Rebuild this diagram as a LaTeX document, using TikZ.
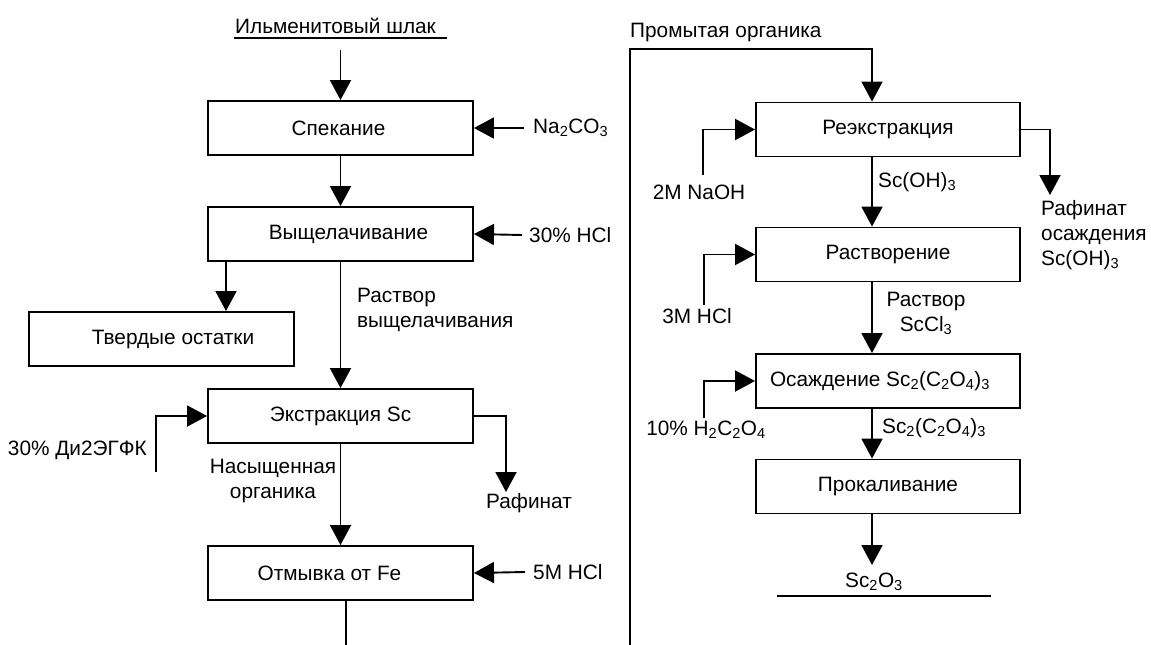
\documentclass[tikz,border=0pt]{standalone}
\usepackage{fontspec}
\setmainfont{Liberation Sans}
\usetikzlibrary{arrows.meta,calc}
\begin{document}
\begin{tikzpicture}[x=1pt,y=-1pt,
  txt/.style={font=\fontsize{20.8}{25}\selectfont},
  proc/.style={draw,line width=1.9pt,minimum height=54pt,inner sep=0pt,txt},
  lproc/.style={proc,minimum width=265pt},
  rproc/.style={proc,minimum width=264pt},
  lbl/.style={txt,inner sep=0pt},
  flow/.style={line width=1.9pt,-{Triangle[width=21pt,length=20pt]}},
  wire/.style={line width=1.9pt}]
\useasboundingbox (0,0) rectangle (1151,645);
\fill[white] (0,0) rectangle (1151,645);
% columns
\coordinate (lx) at (226,0);
\coordinate (rx) at (872,0);
% ---------- left column ----------
\node[lbl] (slag) at (335.5,26) {Ильменитовый шлак};
\draw[wire] (234,38) -- (447,38);
\coordinate (slagout) at (340.5,50);
\node[lproc] (sp) at (340.5,128) {\hspace*{-4pt}Спекание};
\draw[flow] (slagout) -- (sp.north);
\node[lbl,anchor=west] (na) at (533,128) {Na\textsubscript{2}CO\textsubscript{3}};
\draw[flow] ([xshift=-9pt]na.west) -- (sp.east);
\node[lproc] (vy) at (340.5,234) {\hspace*{16pt}Выщелачивание};
\draw[flow] (sp) -- (vy);
\node[lbl,anchor=west] (hcl30) at (529,235) {30\% HCl};
\draw[flow] ([xshift=-7pt]hcl30.west) -- (vy.east);
\node[proc,minimum width=265pt] (tv) at (161.5,339) {\hspace*{23pt}Твердые остатки};
\draw[flow] (vy.south -| lx) -- (tv.north -| lx);
\node[lproc] (ex) at (340.5,416) {Экстракция Sc};
\draw[flow] (vy) -- (ex);
\node[lbl,align=left,anchor=west] (rv) at (357,310) {Раствор\\выщелачивания};
\coordinate (dstart) at (156,472);
\draw[flow] (dstart) |- (ex.west);
\node[lbl,anchor=east] (d2) at (147,450) {30\% Ди2ЭГФК};
\coordinate (rafend) at (506,492);
\draw[flow] (ex.east) -| (rafend);
\node[lbl] (raf) at (529,503) {Рафинат};
\node[lproc] (ot) at (340.5,573) {\hspace*{-22pt}Отмывка от Fe};
\draw[flow] (ex) -- (ot);
\node[lbl,align=center] (nas) at (273,481) {Насыщенная\\органика};
\node[lbl,anchor=west] (hcl5) at (533,572) {5M HCl};
\draw[flow] ([xshift=-8pt]hcl5.west) -- (ot.east);
\coordinate (otout) at (346,645);
\draw[wire] (ot.south -| otout) -- (otout);
% ---------- right column ----------
\coordinate (feedbot) at (630,645);
\coordinate (rtop) at (872,49);
\node[lbl,anchor=west] (prom) at (630,33) {Промытая органика};
\node[rproc] (re) at (888,129.5) {Реэкстракция};
\draw[flow] (feedbot) |- (rtop) -- (re.north -| rx);
\coordinate (naohs) at (703,175);
\draw[flow] (naohs) |- (re.west);
\node[lbl] (naoh) at (699,192) {2M NaOH};
\coordinate (raf2end) at (1050,195);
\draw[flow] (re.east) -| (raf2end);
\node[lbl,align=left,anchor=north west] (raf2) at (1041,200) {Рафинат\\осаждения\\Sc(OH)\textsubscript{3}};
\node[rproc] (ra) at (888,254.5) {Растворение};
\draw[flow] (re.south -| rx) -- (ra.north -| rx);
\node[lbl,anchor=west] (scoh) at (878,182) {Sc(OH)\textsubscript{3}};
\coordinate (hcl3s) at (704,305);
\draw[flow] (hcl3s) |- (ra.west);
\node[lbl] (hcl3) at (697,316) {3M HCl};
\node[rproc] (os) at (888,381) {\hspace*{-16pt}Осаждение Sc\textsubscript{2}(C\textsubscript{2}O\textsubscript{4})\textsubscript{3}};
\draw[flow] (ra.south -| rx) -- (os.north -| rx);
\node[lbl,align=center] (rsc) at (926,313) {Раствор\\ScCl\textsubscript{3}};
\coordinate (oxs) at (704,418);
\draw[flow] (oxs) |- (os.west);
\node[lbl] (ox) at (706,430) {10\% H\textsubscript{2}C\textsubscript{2}O\textsubscript{4}};
\node[rproc] (pr) at (888,486.5) {Прокаливание};
\draw[flow] (os.south -| rx) -- (pr.north -| rx);
\node[lbl,anchor=west] (scox) at (882,428) {Sc\textsubscript{2}(C\textsubscript{2}O\textsubscript{4})\textsubscript{3}};
\coordinate (prout) at (872,565);
\draw[flow] (pr.south -| rx) -- (prout);
\node[lbl] (sco) at (874,582) {Sc\textsubscript{2}O\textsubscript{3}};
\draw[wire] (777,596) -- (991,596);
\end{tikzpicture}
\end{document}
